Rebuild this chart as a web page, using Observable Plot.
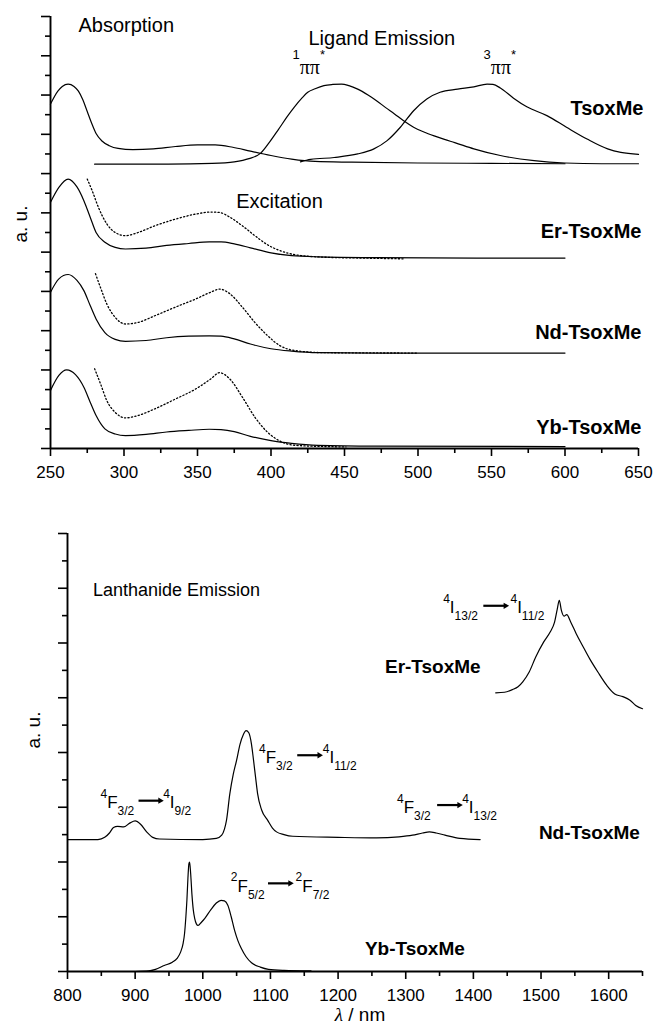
<!DOCTYPE html>
<html>
<head>
<meta charset="utf-8">
<script src="https://cdn.jsdelivr.net/npm/d3@7"></script>
<script src="https://cdn.jsdelivr.net/npm/@observablehq/plot@0.6"></script>
<style>
  html, body { margin: 0; padding: 0; background: #fff; }
  #fig { position: relative; width: 655px; height: 1034px; }
  #fig svg { position: absolute; left: 0; overflow: visible; }
</style>
</head>
<body>
<div id="fig"></div>
<script>
// ---------- UV/Vis panel: wavelength (nm) / intensity (a.u., stacked) ----------
const tsoxAbs = [[250, 8.77], [255, 9.10], [258, 9.22], [262, 9.28], [266, 9.22], [269, 9.10], [272, 8.88], [275, 8.58], [278, 8.28], [281, 8.02], [285, 7.83], [290, 7.71], [296, 7.64], [306, 7.61], [320, 7.63], [335, 7.69], [350, 7.73], [362, 7.73], [374, 7.67], [386, 7.57], [400, 7.46], [414, 7.37], [430, 7.31], [455, 7.29], [500, 7.27], [550, 7.26], [600, 7.25]];
const tsoxEmSinglet = [[280, 7.24], [330, 7.24], [360, 7.26], [375, 7.30], [385, 7.38], [393, 7.52], [399, 7.80], [405, 8.12], [411, 8.45], [416, 8.70], [421, 8.92], [425, 9.07], [430, 9.16], [436, 9.24], [442, 9.27], [448, 9.28], [453, 9.24], [459, 9.15], [466, 9.00], [472, 8.85], [478, 8.68], [484, 8.52], [490, 8.35], [497, 8.18], [504, 8.06], [511, 7.96], [518, 7.87], [525, 7.79], [538, 7.63], [556, 7.46], [579, 7.33], [600, 7.27], [625, 7.25], [650, 7.25]];
const tsoxEmTriplet = [[420, 7.30], [427, 7.36], [443, 7.41], [459, 7.50], [470, 7.63], [479, 7.84], [488, 8.18], [497, 8.60], [506, 8.90], [515, 9.07], [527, 9.15], [538, 9.21], [547, 9.28], [551, 9.27], [556, 9.18], [565, 8.92], [574, 8.70], [588, 8.47], [601, 8.18], [615, 7.88], [629, 7.63], [638, 7.54], [650, 7.49]];
const erAbs = [[250, 6.27], [255.7, 6.65], [262, 6.86], [268, 6.66], [272.7, 6.31], [277, 5.89], [281, 5.50], [287, 5.25], [294, 5.12], [301, 5.08], [315, 5.10], [329, 5.17], [344, 5.22], [358, 5.26], [366, 5.26], [375, 5.21], [386, 5.11], [400, 4.98], [414, 4.91], [432, 4.88], [471, 4.86], [540, 4.85], [600, 4.85]];
const erExc = [[275, 6.86], [278.4, 6.56], [282.6, 6.14], [288.3, 5.72], [294, 5.50], [301, 5.42], [309.6, 5.50], [321, 5.67], [335, 5.84], [349, 5.97], [359, 6.02], [365, 6.01], [372, 5.89], [380.5, 5.67], [389, 5.42], [397.5, 5.19], [406, 5.04], [417, 4.93], [437, 4.87], [460, 4.85], [490, 4.83]];
const ndAbs = [[250, 3.98], [255.7, 4.32], [262, 4.43], [268, 4.28], [272.7, 4.02], [277, 3.64], [281, 3.30], [287, 2.95], [294, 2.78], [301, 2.73], [315, 2.75], [329, 2.82], [344, 2.86], [358, 2.87], [366, 2.86], [375, 2.79], [386, 2.66], [400, 2.54], [414, 2.48], [432, 2.44], [471, 2.43], [600, 2.43]];
const ndExc = [[280.6, 4.45], [284, 4.10], [288.3, 3.68], [294, 3.34], [301, 3.17], [309.6, 3.21], [321, 3.38], [335, 3.60], [349, 3.81], [359, 3.98], [365, 4.06], [372, 3.94], [380.5, 3.60], [389, 3.21], [397.5, 2.88], [406, 2.62], [417, 2.49], [437, 2.44], [500, 2.43]];
const ybAbs = [[250, 1.48], [255.7, 1.86], [261, 2.00], [267, 1.88], [272.7, 1.56], [277, 1.18], [281, 0.84], [287, 0.50], [294, 0.37], [301, 0.33], [315, 0.36], [329, 0.42], [344, 0.46], [358, 0.49], [366, 0.48], [375, 0.43], [386, 0.31], [400, 0.20], [414, 0.13], [432, 0.08], [471, 0.06], [600, 0.05]];
const ybExc = [[280, 2.03], [284, 1.65], [288.3, 1.22], [294, 0.92], [301, 0.78], [309.6, 0.84], [321, 1.01], [335, 1.26], [349, 1.52], [359, 1.77], [365, 1.93], [372, 1.77], [380.5, 1.31], [389, 0.80], [397.5, 0.42], [406, 0.19], [417, 0.08], [437, 0.05], [451, 0.04]];

// ---------- NIR panel: lanthanide emission ----------
const erEm = [[1433, 5.09], [1446, 5.10], [1458, 5.15], [1466, 5.20], [1473, 5.29], [1482.5, 5.47], [1492, 5.74], [1504, 6.02], [1513.5, 6.20], [1520, 6.38], [1524, 6.62], [1527, 6.78], [1530, 6.60], [1534, 6.49], [1538, 6.52], [1544, 6.38], [1552, 6.17], [1561, 5.96], [1572, 5.71], [1584, 5.47], [1597, 5.23], [1609, 5.07], [1621, 5.02], [1631, 4.96], [1640, 4.86], [1650, 4.80]];
const ndEm = [[800, 2.41], [845, 2.41], [855, 2.45], [862, 2.53], [868, 2.63], [874, 2.65], [883, 2.64], [892, 2.71], [900, 2.75], [908, 2.69], [917, 2.55], [926, 2.45], [936, 2.42], [1000, 2.41], [1020, 2.43], [1028, 2.49], [1032, 2.60], [1035, 2.76], [1040, 3.25], [1045, 3.60], [1050, 3.86], [1055, 4.15], [1060, 4.33], [1064, 4.40], [1068, 4.36], [1072, 4.15], [1075, 3.86], [1078, 3.55], [1081, 3.25], [1087, 2.95], [1096, 2.76], [1103, 2.62], [1109, 2.55], [1120, 2.50], [1133, 2.47], [1200, 2.45], [1257, 2.44], [1290, 2.46], [1310, 2.49], [1325, 2.53], [1335, 2.55], [1345, 2.53], [1358, 2.49], [1380, 2.43], [1410, 2.41]];
const ybEm = [[900, 0.00], [920, 0.01], [930, 0.04], [943, 0.11], [955, 0.17], [962, 0.24], [967, 0.35], [971, 0.52], [973, 0.69], [975, 1.00], [976.5, 1.30], [978, 1.70], [979.5, 1.97], [980.5, 2.00], [982, 1.80], [984, 1.40], [986, 1.12], [988, 0.97], [990.5, 0.87], [993, 0.84], [998, 0.90], [1003, 0.97], [1012, 1.13], [1020, 1.25], [1027, 1.30], [1032, 1.29], [1037, 1.21], [1042, 1.00], [1047, 0.75], [1052, 0.56], [1057, 0.42], [1064, 0.27], [1072, 0.16], [1085, 0.08], [1097, 0.04], [1120, 0.02], [1160, 0.01]];

// ---------- ticks ----------
const uvTicks = [250, 300, 350, 400, 450, 500, 550, 600, 650];
const uvMinorTicks = [275, 325, 375, 425, 475, 525, 575, 625];
const uvYTicks = d3.range(0, 12);
const uvYMinorTicks = d3.range(0.5, 11, 1);
const nirTicks = [800, 900, 1000, 1100, 1200, 1300, 1400, 1500, 1600];
const nirMinorTicks = [850, 950, 1050, 1150, 1250, 1350, 1450, 1550, 1650];
const nirYTicks = d3.range(0, 9);
const nirYMinorTicks = d3.range(0.5, 8, 1);

// ---------- annotations (data coordinates) ----------
const uvNotes = [
  {t: "Absorption", x: 269, y: 10.77},
  {t: "Ligand Emission", x: 425.5, y: 10.44},
  {t: "Excitation", x: 376.3, y: 6.29}
];
const uvStates = [
  {t: "^{1}ππ^{*}", x: 414.6, y: 9.70},
  {t: "^{3}ππ^{*}", x: 544.6, y: 9.70}
];
const uvCompounds = [
  {t: "TsoxMe", x: 653.4, y: 8.66},
  {t: "Er-TsoxMe", x: 652, y: 5.53},
  {t: "Nd-TsoxMe", x: 652, y: 2.95},
  {t: "Yb-TsoxMe", x: 652, y: 0.53}
];
const nirNotes = [{t: "Lanthanide Emission", x: 837.6, y: 6.96}];
const nirCompoundsLeft = [
  {t: "Er-TsoxMe", x: 1269.3, y: 5.56},
  {t: "Yb-TsoxMe", x: 1239.6, y: 0.42}
];
const nirCompoundsRight = [{t: "Nd-TsoxMe", x: 1646.1, y: 2.54}];
const nirTerms = [
  {t: "^{4}I_{13/2}", x: 1355.3, y: 6.64}, {t: "^{4}I_{11/2}", x: 1454.8, y: 6.64},
  {t: "^{4}F_{3/2}", x: 1083.1, y: 3.90}, {t: "^{4}I_{11/2}", x: 1177.3, y: 3.90},
  {t: "^{4}F_{3/2}", x: 848.7, y: 3.08}, {t: "^{4}I_{9/2}", x: 941.4, y: 3.08},
  {t: "^{4}F_{3/2}", x: 1287.1, y: 2.99}, {t: "^{4}I_{13/2}", x: 1383.4, y: 2.99},
  {t: "^{2}F_{5/2}", x: 1041.5, y: 1.56}, {t: "^{2}F_{7/2}", x: 1137.2, y: 1.56}
];
const nirArrows = [
  {x1: 1414.7, x2: 1448.9, y: 6.68},
  {x1: 1139.6, x2: 1173.7, y: 3.95},
  {x1: 905, x2: 938.4, y: 3.12},
  {x1: 1346.4, x2: 1380.5, y: 3.04},
  {x1: 1096.4, x2: 1130.6, y: 1.61}
];

const SANS = "Liberation Sans, Arial, Helvetica, sans-serif";
const SERIF = "Liberation Serif, Times New Roman, serif";
const pts = (a) => a.map(([x, y]) => ({x, y}));
const solid = (a) => Plot.line(pts(a), {x: "x", y: "y", curve: "monotone-x", stroke: "#000", strokeWidth: 1.2});
const dotted = (a) => Plot.line(pts(a), {x: "x", y: "y", curve: "monotone-x", stroke: "#000", strokeWidth: 1.3, strokeDasharray: "1.2,2.3"});

function frameAxes(xMajor, xMinor, yMajor, yMinor, x0) {
  return [
    Plot.axisX(xMajor, {tickSize: 8, tickPadding: 9, strokeWidth: 1.6, fontSize: 17, tickFormat: d3.format("d"), label: null}),
    Plot.axisX(xMinor, {tickSize: 5, strokeWidth: 1.6, tickFormat: () => "", label: null}),
    Plot.axisY(yMajor, {tickSize: 9, strokeWidth: 1.6, tickFormat: () => "", label: null}),
    Plot.axisY(yMinor, {tickSize: 5, strokeWidth: 1.6, tickFormat: () => "", label: null}),
    Plot.ruleX([x0], {strokeWidth: 1.9}),
    Plot.ruleY([0], {strokeWidth: 1.9})
  ];
}

const baseStyle = {fontFamily: SANS, fontSize: "17px", color: "#000", background: "transparent", overflow: "visible"};

const uv = Plot.plot({
  width: 655, height: 490,
  marginLeft: 50, marginRight: 17, marginTop: 16, marginBottom: 42,
  x: {domain: [250, 650], label: null},
  y: {domain: [0, 11], label: null},
  style: baseStyle,
  marks: [
    ...frameAxes(uvTicks, uvMinorTicks, uvYTicks, uvYMinorTicks, 250),
    solid(tsoxAbs), solid(tsoxEmSinglet), solid(tsoxEmTriplet),
    solid(erAbs), dotted(erExc),
    solid(ndAbs), dotted(ndExc),
    solid(ybAbs), dotted(ybExc),
    Plot.text(uvNotes, {x: "x", y: "y", text: "t", textAnchor: "start", fontSize: 20, fontFamily: SANS}),
    Plot.text(uvStates, {x: "x", y: "y", text: "t", textAnchor: "start", fontSize: 20, fontFamily: SERIF}),
    Plot.text(uvCompounds, {x: "x", y: "y", text: "t", textAnchor: "end", fontSize: 20, fontWeight: "bold", fontFamily: SANS}),
    Plot.text(["a. u."], {frameAnchor: "left", rotate: -90, dx: -30, dy: 10, fontSize: 19, fontFamily: SANS})
  ]
});

const nir = Plot.plot({
  width: 655, height: 544,
  marginLeft: 67, marginRight: 13, marginTop: 43, marginBottom: 63,
  x: {domain: [800, 1650], label: null},
  y: {domain: [0, 8], label: null},
  style: baseStyle,
  marks: [
    ...frameAxes(nirTicks, nirMinorTicks, nirYTicks, nirYMinorTicks, 800),
    solid(erEm), solid(ndEm), solid(ybEm),
    Plot.text(nirNotes, {x: "x", y: "y", text: "t", textAnchor: "start", fontSize: 18, fontFamily: SANS}),
    Plot.text(nirCompoundsLeft, {x: "x", y: "y", text: "t", textAnchor: "start", fontSize: 19, fontWeight: "bold", fontFamily: SANS}),
    Plot.text(nirCompoundsRight, {x: "x", y: "y", text: "t", textAnchor: "end", fontSize: 19, fontWeight: "bold", fontFamily: SANS}),
    Plot.text(nirTerms, {x: "x", y: "y", text: "t", textAnchor: "start", fontSize: 17, fontFamily: SANS}),
    Plot.link(nirArrows, {x1: "x1", x2: "x2", y1: "y", y2: "y", stroke: "#000", strokeWidth: 2.2}),
    Plot.dot(nirArrows, {x: "x2", y: "y", symbol: "triangle2", r: 3, rotate: 90, fill: "#000", stroke: "none", dx: -1}),
    Plot.text(["a. u."], {frameAnchor: "left", rotate: -90, dx: -34, dy: -4, fontSize: 19, fontFamily: SANS}),
    Plot.text(["λ / nm"], {frameAnchor: "bottom", dx: 5, dy: 49, fontSize: 19, fontFamily: SANS})
  ]
});

// Turn ^{..} and _{..} markup into superscript / subscript tspans
function richText(svg) {
  d3.select(svg).selectAll("text").each(function () {
    const s = this.textContent;
    const el = d3.select(this);
    if (s === "λ / nm") {
      el.text(null);
      el.append("tspan").attr("font-style", "italic").attr("font-family", SERIF).text("λ");
      el.append("tspan").text(" / nm");
      return;
    }
    if (!/[\^_]\{/.test(s)) return;
    const isPi = s.includes("π");
    const supDy = isPi ? -15 : -10.5, subDy = 7, small = isPi ? 13 : 12;
    el.text(null);
    const re = /\^\{([^}]*)\}|_\{([^}]*)\}|([^^_]+)/g;
    let m, shift = 0;
    while ((m = re.exec(s))) {
      const target = m[1] != null ? supDy : m[2] != null ? subDy : 0;
      const ts = el.append("tspan").text(m[1] ?? m[2] ?? m[3]);
      if (target - shift !== 0) ts.attr("dy", target - shift);
      if (target !== 0) ts.attr("font-size", small).attr("font-family", SANS);
      shift = target;
    }
  });
}
richText(uv);
richText(nir);

const fig = document.getElementById("fig");
uv.style.top = "0px";
nir.style.top = "490px";
fig.append(uv, nir);
</script>
</body>
</html>
